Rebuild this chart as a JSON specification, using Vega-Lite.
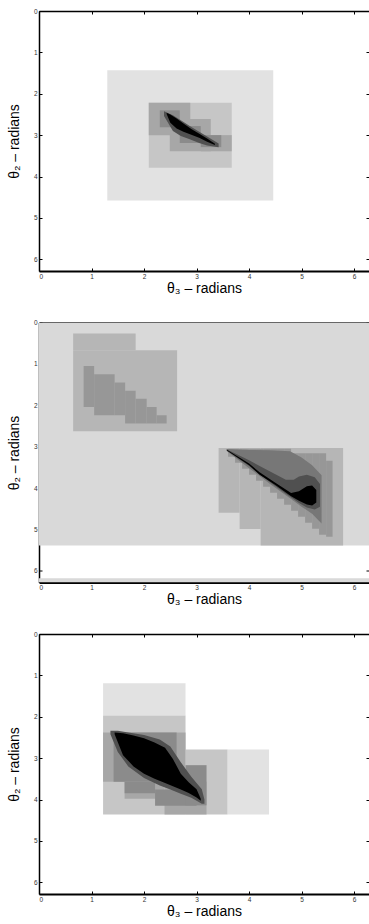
{
"$schema":"https://vega.github.io/schema/vega-lite/v6.json",
"padding":{"left":7,"top":8,"right":0,"bottom":0},
"spacing":51.5,
"bounds":"flush",
"config":{"view":{"stroke":null},
 "axis":{"tickSize":-3,"tickColor":"black","tickWidth":1,"domainColor":"black","grid":false,"labelFont":"Liberation Sans","labelFontSize":6.5,"labelColor":"#333","titleFont":"Liberation Sans","titleFontSize":14,"titleFontWeight":"normal","titleColor":"black","labelPadding":5,"labelOverlap":false}},
"datasets":{
"rects":[
{"panel":1,"level":"L1","x1":1.30,"x2":4.46,"y1":1.43,"y2":4.58},
{"panel":1,"level":"L3","x1":2.09,"x2":3.67,"y1":2.22,"y2":3.79},
{"panel":1,"level":"L5","x1":2.09,"x2":2.88,"y1":2.22,"y2":3.00},
{"panel":1,"level":"L5","x1":2.49,"x2":3.27,"y1":2.61,"y2":3.39},
{"panel":1,"level":"L5","x1":3.08,"x2":3.67,"y1":3.00,"y2":3.39},
{"panel":1,"level":"L7","x1":2.30,"x2":2.68,"y1":2.40,"y2":2.81},
{"panel":1,"level":"L7","x1":2.68,"x2":3.08,"y1":2.78,"y2":3.19},
{"panel":1,"level":"L7","x1":3.08,"x2":3.47,"y1":3.00,"y2":3.29},
{"panel":2,"level":"L2","x1":0,"x2":6.2832,"y1":0,"y2":5.39},
{"panel":2,"level":"L2","x1":0,"x2":6.2832,"y1":6.18,"y2":6.2832},
{"panel":2,"level":"L4","x1":0.65,"x2":1.84,"y1":0.265,"y2":0.67},
{"panel":2,"level":"L4","x1":0.65,"x2":2.63,"y1":0.67,"y2":2.63},
{"panel":2,"level":"L4","x1":3.42,"x2":3.82,"y1":3.03,"y2":4.60},
{"panel":2,"level":"L4","x1":3.82,"x2":4.22,"y1":3.03,"y2":4.99},
{"panel":2,"level":"L4","x1":4.22,"x2":5.79,"y1":3.03,"y2":5.39},
{"panel":2,"level":"L6","x1":0.85,"x2":1.05,"y1":1.05,"y2":2.04},
{"panel":2,"level":"L6","x1":1.05,"x2":1.44,"y1":1.25,"y2":2.24},
{"panel":2,"level":"L6","x1":1.44,"x2":1.64,"y1":1.45,"y2":2.24},
{"panel":2,"level":"L6","x1":1.64,"x2":1.84,"y1":1.65,"y2":2.44},
{"panel":2,"level":"L6","x1":1.84,"x2":2.05,"y1":1.84,"y2":2.44},
{"panel":2,"level":"L6","x1":2.05,"x2":2.24,"y1":2.04,"y2":2.44},
{"panel":2,"level":"L6","x1":2.24,"x2":2.43,"y1":2.24,"y2":2.44},
{"panel":2,"level":"L6","x1":3.600,"x2":3.733,"y1":3.05,"y2":3.245},
{"panel":2,"level":"L6","x1":3.733,"x2":3.867,"y1":3.05,"y2":3.39},
{"panel":2,"level":"L6","x1":3.867,"x2":4.000,"y1":3.05,"y2":3.535},
{"panel":2,"level":"L6","x1":4.000,"x2":4.133,"y1":3.05,"y2":3.68},
{"panel":2,"level":"L6","x1":4.133,"x2":4.267,"y1":3.05,"y2":3.825},
{"panel":2,"level":"L6","x1":4.267,"x2":4.400,"y1":3.05,"y2":3.97},
{"panel":2,"level":"L6","x1":4.400,"x2":4.533,"y1":3.05,"y2":4.115},
{"panel":2,"level":"L6","x1":4.533,"x2":4.667,"y1":3.05,"y2":4.26},
{"panel":2,"level":"L6","x1":4.667,"x2":4.800,"y1":3.05,"y2":4.405},
{"panel":2,"level":"L6","x1":4.800,"x2":4.933,"y1":3.16,"y2":4.55},
{"panel":2,"level":"L6","x1":4.933,"x2":5.067,"y1":3.16,"y2":4.695},
{"panel":2,"level":"L6","x1":5.067,"x2":5.200,"y1":3.16,"y2":4.84},
{"panel":2,"level":"L6","x1":5.200,"x2":5.333,"y1":3.16,"y2":4.985},
{"panel":2,"level":"L6","x1":5.333,"x2":5.467,"y1":3.16,"y2":5.13},
{"panel":2,"level":"L6","x1":5.467,"x2":5.590,"y1":3.34,"y2":5.18},
{"panel":3,"level":"L1","x1":1.22,"x2":2.79,"y1":1.19,"y2":1.97},
{"panel":3,"level":"L1","x1":3.59,"x2":4.38,"y1":2.79,"y2":4.36},
{"panel":3,"level":"L3","x1":1.22,"x2":2.79,"y1":1.97,"y2":4.36},
{"panel":3,"level":"L3","x1":2.79,"x2":3.59,"y1":2.79,"y2":4.36},
{"panel":3,"level":"L5","x1":1.22,"x2":2.79,"y1":2.38,"y2":3.57},
{"panel":3,"level":"L5","x1":1.63,"x2":2.39,"y1":3.57,"y2":3.98},
{"panel":3,"level":"L5","x1":2.39,"x2":3.19,"y1":3.57,"y2":4.36},
{"panel":3,"level":"L7","x1":1.42,"x2":2.62,"y1":2.38,"y2":3.57},
{"panel":3,"level":"L7","x1":1.63,"x2":2.21,"y1":3.57,"y2":3.85},
{"panel":3,"level":"L7","x1":2.21,"x2":3.00,"y1":3.76,"y2":4.15},
{"panel":3,"level":"L7","x1":2.79,"x2":3.19,"y1":3.17,"y2":4.14}
],
"areas":[
{"panel":1,"z":1,"level":"L9","x":2.38,"y":2.42,"y2":2.54},
{"panel":1,"z":1,"level":"L9","x":2.55,"y":2.52,"y2":2.90},
{"panel":1,"z":1,"level":"L9","x":2.70,"y":2.64,"y2":3.02},
{"panel":1,"z":1,"level":"L9","x":2.87,"y":2.78,"y2":3.10},
{"panel":1,"z":1,"level":"L9","x":3.05,"y":2.92,"y2":3.19},
{"panel":1,"z":1,"level":"L9","x":3.20,"y":3.03,"y2":3.25},
{"panel":1,"z":1,"level":"L9","x":3.42,"y":3.20,"y2":3.29},
{"panel":1,"z":2,"level":"L10","x":2.43,"y":2.46,"y2":2.49},
{"panel":1,"z":2,"level":"L10","x":2.50,"y":2.50,"y2":2.70},
{"panel":1,"z":2,"level":"L10","x":2.62,"y":2.60,"y2":2.84},
{"panel":1,"z":2,"level":"L10","x":2.75,"y":2.72,"y2":2.92},
{"panel":1,"z":2,"level":"L10","x":2.90,"y":2.85,"y2":2.99},
{"panel":1,"z":2,"level":"L10","x":3.06,"y":2.97,"y2":3.07},
{"panel":1,"z":2,"level":"L10","x":3.20,"y":3.08,"y2":3.16},
{"panel":1,"z":2,"level":"L10","x":3.35,"y":3.21,"y2":3.24},
{"panel":2,"z":1,"level":"L8","x":3.58,"y":3.06,"y2":3.11},
{"panel":2,"z":1,"level":"L8","x":4.00,"y":3.08,"y2":3.52},
{"panel":2,"z":1,"level":"L8","x":4.40,"y":3.09,"y2":3.90},
{"panel":2,"z":1,"level":"L8","x":4.78,"y":3.11,"y2":4.25},
{"panel":2,"z":1,"level":"L8","x":5.00,"y":3.26,"y2":4.45},
{"panel":2,"z":1,"level":"L8","x":5.20,"y":3.45,"y2":4.62},
{"panel":2,"z":1,"level":"L8","x":5.38,"y":3.69,"y2":4.86},
{"panel":2,"z":2,"level":"L9","x":3.58,"y":3.07,"y2":3.10},
{"panel":2,"z":2,"level":"L9","x":4.00,"y":3.33,"y2":3.47},
{"panel":2,"z":2,"level":"L9","x":4.40,"y":3.60,"y2":3.86},
{"panel":2,"z":2,"level":"L9","x":4.70,"y":3.80,"y2":4.14},
{"panel":2,"z":2,"level":"L9","x":4.85,"y":3.80,"y2":4.27},
{"panel":2,"z":2,"level":"L9","x":4.95,"y":3.72,"y2":4.36},
{"panel":2,"z":2,"level":"L9","x":5.10,"y":3.68,"y2":4.47},
{"panel":2,"z":2,"level":"L9","x":5.25,"y":3.74,"y2":4.52},
{"panel":2,"z":2,"level":"L9","x":5.35,"y":3.90,"y2":4.45},
{"panel":2,"z":3,"level":"L10","x":3.57,"y":3.07,"y2":3.09},
{"panel":2,"z":3,"level":"L10","x":4.00,"y":3.41,"y2":3.45},
{"panel":2,"z":3,"level":"L10","x":4.20,"y":3.62,"y2":3.68},
{"panel":2,"z":3,"level":"L10","x":4.50,"y":3.87,"y2":3.93},
{"panel":2,"z":3,"level":"L10","x":4.80,"y":4.12,"y2":4.20},
{"panel":2,"z":3,"level":"L10","x":4.95,"y":4.08,"y2":4.31},
{"panel":2,"z":3,"level":"L10","x":5.10,"y":3.96,"y2":4.40},
{"panel":2,"z":3,"level":"L10","x":5.20,"y":3.94,"y2":4.42},
{"panel":2,"z":3,"level":"L10","x":5.28,"y":4.05,"y2":4.35},
{"panel":3,"z":1,"level":"L9","x":1.36,"y":2.34,"y2":2.42},
{"panel":3,"z":1,"level":"L9","x":1.50,"y":2.34,"y2":2.85},
{"panel":3,"z":1,"level":"L9","x":1.70,"y":2.38,"y2":3.20},
{"panel":3,"z":1,"level":"L9","x":2.00,"y":2.44,"y2":3.48},
{"panel":3,"z":1,"level":"L9","x":2.30,"y":2.55,"y2":3.66},
{"panel":3,"z":1,"level":"L9","x":2.50,"y":2.72,"y2":3.76},
{"panel":3,"z":1,"level":"L9","x":2.70,"y":3.10,"y2":3.86},
{"panel":3,"z":1,"level":"L9","x":2.90,"y":3.45,"y2":3.96},
{"panel":3,"z":1,"level":"L9","x":3.10,"y":3.75,"y2":4.10},
{"panel":3,"z":1,"level":"L9","x":3.15,"y":4.00,"y2":4.10},
{"panel":3,"z":2,"level":"L10","x":1.44,"y":2.38,"y2":2.42},
{"panel":3,"z":2,"level":"L10","x":1.60,"y":2.40,"y2":2.93},
{"panel":3,"z":2,"level":"L10","x":1.80,"y":2.45,"y2":3.20},
{"panel":3,"z":2,"level":"L10","x":2.00,"y":2.52,"y2":3.38},
{"panel":3,"z":2,"level":"L10","x":2.20,"y":2.62,"y2":3.50},
{"panel":3,"z":2,"level":"L10","x":2.40,"y":2.75,"y2":3.60},
{"panel":3,"z":2,"level":"L10","x":2.55,"y":3.02,"y2":3.68},
{"panel":3,"z":2,"level":"L10","x":2.70,"y":3.38,"y2":3.76},
{"panel":3,"z":2,"level":"L10","x":2.85,"y":3.58,"y2":3.84},
{"panel":3,"z":2,"level":"L10","x":3.00,"y":3.75,"y2":3.95},
{"panel":3,"z":2,"level":"L10","x":3.08,"y":3.98,"y2":4.03}
]},
"vconcat":[
{"width":330,"height":260,
 "layer":[
  {"data":{"name":"rects"},"transform":[{"filter":"datum.panel==1"}],"mark":{"type":"rect","clip":true},
   "encoding":{"x":{"field":"x1","type":"quantitative","scale":{"domain":[0,6.2832],"nice":false,"zero":false},"axis":{"orient":"bottom","title":"θ₃ – radians","values":[0,1,2,3,4,5,6],"format":"d","domainWidth":2,"titlePadding":1.5}},
    "x2":{"field":"x2"},
    "y":{"field":"y1","type":"quantitative","scale":{"domain":[0,6.2832],"nice":false,"zero":false,"reverse":true},"axis":{"orient":"left","title":"θ₂ – radians","values":[0,1,2,3,4,5,6],"format":"d","domainWidth":1.5,"titlePadding":12}},
    "y2":{"field":"y2"},
    "color":{"field":"level","type":"nominal","scale":{"domain":["L1","L2","L3","L4","L5","L6","L7","L8","L9","L10"],"range":["#e2e2e2","#d9d9d9","#c6c6c6","#b6b6b6","#a7a7a7","#979797","#8b8b8b","#777777","#505050","#000000"]},"legend":null}}},
  {"data":{"name":"areas"},"transform":[{"filter":"datum.panel==1 && datum.z==1"}],"mark":{"type":"area","clip":true},
   "encoding":{"x":{"field":"x","type":"quantitative","scale":{"domain":[0,6.2832],"nice":false,"zero":false},"axis":null},
    "y":{"field":"y","type":"quantitative","stack":null,"scale":{"domain":[0,6.2832],"nice":false,"zero":false,"reverse":true},"axis":null},"y2":{"field":"y2"},
    "color":{"field":"level","type":"nominal","scale":{"domain":["L1","L2","L3","L4","L5","L6","L7","L8","L9","L10"],"range":["#e2e2e2","#d9d9d9","#c6c6c6","#b6b6b6","#a7a7a7","#979797","#8b8b8b","#777777","#505050","#000000"]},"legend":null}}},
  {"data":{"name":"areas"},"transform":[{"filter":"datum.panel==1 && datum.z==2"}],"mark":{"type":"area","clip":true},
   "encoding":{"x":{"field":"x","type":"quantitative","scale":{"domain":[0,6.2832],"nice":false,"zero":false},"axis":null},
    "y":{"field":"y","type":"quantitative","stack":null,"scale":{"domain":[0,6.2832],"nice":false,"zero":false,"reverse":true},"axis":null},"y2":{"field":"y2"},
    "color":{"field":"level","type":"nominal","scale":{"domain":["L1","L2","L3","L4","L5","L6","L7","L8","L9","L10"],"range":["#e2e2e2","#d9d9d9","#c6c6c6","#b6b6b6","#a7a7a7","#979797","#8b8b8b","#777777","#505050","#000000"]},"legend":null}}},
  {"data":{"name":"rects"},"transform":[{"filter":"datum.panel==1"}],"mark":{"type":"point","opacity":0},
   "encoding":{"x":{"field":"x1","type":"quantitative","scale":{"domain":[0,6.2832],"nice":false,"zero":false},"axis":{"orient":"top","title":null,"labels":false,"values":[0,1,2,3,4,5,6],"domainWidth":1.5}},
    "y":{"field":"y1","type":"quantitative","scale":{"domain":[0,6.2832],"nice":false,"zero":false,"reverse":true},"axis":{"orient":"right","title":null,"labels":false,"values":[0,1,2,3,4,5,6],"domain":false}}}}
 ],
 "resolve":{"axis":{"x":"independent","y":"independent"}}},
{"width":330,"height":260,
 "layer":[
  {"data":{"name":"rects"},"transform":[{"filter":"datum.panel==2"}],"mark":{"type":"rect","clip":true},
   "encoding":{"x":{"field":"x1","type":"quantitative","scale":{"domain":[0,6.2832],"nice":false,"zero":false},"axis":{"orient":"bottom","title":"θ₃ – radians","values":[0,1,2,3,4,5,6],"format":"d","domainWidth":2,"titlePadding":1.5}},
    "x2":{"field":"x2"},
    "y":{"field":"y1","type":"quantitative","scale":{"domain":[0,6.2832],"nice":false,"zero":false,"reverse":true},"axis":{"orient":"left","title":"θ₂ – radians","values":[0,1,2,3,4,5,6],"format":"d","domainWidth":1.5,"titlePadding":12}},
    "y2":{"field":"y2"},
    "color":{"field":"level","type":"nominal","scale":{"domain":["L1","L2","L3","L4","L5","L6","L7","L8","L9","L10"],"range":["#e2e2e2","#d9d9d9","#c6c6c6","#b6b6b6","#a7a7a7","#979797","#8b8b8b","#777777","#505050","#000000"]},"legend":null}}},
  {"data":{"name":"areas"},"transform":[{"filter":"datum.panel==2 && datum.z==1"}],"mark":{"type":"area","clip":true},
   "encoding":{"x":{"field":"x","type":"quantitative","scale":{"domain":[0,6.2832],"nice":false,"zero":false},"axis":null},
    "y":{"field":"y","type":"quantitative","stack":null,"scale":{"domain":[0,6.2832],"nice":false,"zero":false,"reverse":true},"axis":null},"y2":{"field":"y2"},
    "color":{"field":"level","type":"nominal","scale":{"domain":["L1","L2","L3","L4","L5","L6","L7","L8","L9","L10"],"range":["#e2e2e2","#d9d9d9","#c6c6c6","#b6b6b6","#a7a7a7","#979797","#8b8b8b","#777777","#505050","#000000"]},"legend":null}}},
  {"data":{"name":"areas"},"transform":[{"filter":"datum.panel==2 && datum.z==2"}],"mark":{"type":"area","clip":true},
   "encoding":{"x":{"field":"x","type":"quantitative","scale":{"domain":[0,6.2832],"nice":false,"zero":false},"axis":null},
    "y":{"field":"y","type":"quantitative","stack":null,"scale":{"domain":[0,6.2832],"nice":false,"zero":false,"reverse":true},"axis":null},"y2":{"field":"y2"},
    "color":{"field":"level","type":"nominal","scale":{"domain":["L1","L2","L3","L4","L5","L6","L7","L8","L9","L10"],"range":["#e2e2e2","#d9d9d9","#c6c6c6","#b6b6b6","#a7a7a7","#979797","#8b8b8b","#777777","#505050","#000000"]},"legend":null}}},
  {"data":{"name":"areas"},"transform":[{"filter":"datum.panel==2 && datum.z==3"}],"mark":{"type":"area","clip":true},
   "encoding":{"x":{"field":"x","type":"quantitative","scale":{"domain":[0,6.2832],"nice":false,"zero":false},"axis":null},
    "y":{"field":"y","type":"quantitative","stack":null,"scale":{"domain":[0,6.2832],"nice":false,"zero":false,"reverse":true},"axis":null},"y2":{"field":"y2"},
    "color":{"field":"level","type":"nominal","scale":{"domain":["L1","L2","L3","L4","L5","L6","L7","L8","L9","L10"],"range":["#e2e2e2","#d9d9d9","#c6c6c6","#b6b6b6","#a7a7a7","#979797","#8b8b8b","#777777","#505050","#000000"]},"legend":null}}},
  {"data":{"name":"rects"},"transform":[{"filter":"datum.panel==2"}],"mark":{"type":"point","opacity":0},
   "encoding":{"x":{"field":"x1","type":"quantitative","scale":{"domain":[0,6.2832],"nice":false,"zero":false},"axis":{"orient":"top","title":null,"labels":false,"values":[0,1,2,3,4,5,6],"domainWidth":1.5}},
    "y":{"field":"y1","type":"quantitative","scale":{"domain":[0,6.2832],"nice":false,"zero":false,"reverse":true},"axis":{"orient":"right","title":null,"labels":false,"values":[0,1,2,3,4,5,6],"domain":false}}}}
 ],
 "resolve":{"axis":{"x":"independent","y":"independent"}}},
{"width":330,"height":260,
 "layer":[
  {"data":{"name":"rects"},"transform":[{"filter":"datum.panel==3"}],"mark":{"type":"rect","clip":true},
   "encoding":{"x":{"field":"x1","type":"quantitative","scale":{"domain":[0,6.2832],"nice":false,"zero":false},"axis":{"orient":"bottom","title":"θ₃ – radians","values":[0,1,2,3,4,5,6],"format":"d","domainWidth":2,"titlePadding":1.5}},
    "x2":{"field":"x2"},
    "y":{"field":"y1","type":"quantitative","scale":{"domain":[0,6.2832],"nice":false,"zero":false,"reverse":true},"axis":{"orient":"left","title":"θ₂ – radians","values":[0,1,2,3,4,5,6],"format":"d","domainWidth":1.5,"titlePadding":12}},
    "y2":{"field":"y2"},
    "color":{"field":"level","type":"nominal","scale":{"domain":["L1","L2","L3","L4","L5","L6","L7","L8","L9","L10"],"range":["#e2e2e2","#d9d9d9","#c6c6c6","#b6b6b6","#a7a7a7","#979797","#8b8b8b","#777777","#505050","#000000"]},"legend":null}}},
  {"data":{"name":"areas"},"transform":[{"filter":"datum.panel==3 && datum.z==1"}],"mark":{"type":"area","clip":true},
   "encoding":{"x":{"field":"x","type":"quantitative","scale":{"domain":[0,6.2832],"nice":false,"zero":false},"axis":null},
    "y":{"field":"y","type":"quantitative","stack":null,"scale":{"domain":[0,6.2832],"nice":false,"zero":false,"reverse":true},"axis":null},"y2":{"field":"y2"},
    "color":{"field":"level","type":"nominal","scale":{"domain":["L1","L2","L3","L4","L5","L6","L7","L8","L9","L10"],"range":["#e2e2e2","#d9d9d9","#c6c6c6","#b6b6b6","#a7a7a7","#979797","#8b8b8b","#777777","#505050","#000000"]},"legend":null}}},
  {"data":{"name":"areas"},"transform":[{"filter":"datum.panel==3 && datum.z==2"}],"mark":{"type":"area","clip":true},
   "encoding":{"x":{"field":"x","type":"quantitative","scale":{"domain":[0,6.2832],"nice":false,"zero":false},"axis":null},
    "y":{"field":"y","type":"quantitative","stack":null,"scale":{"domain":[0,6.2832],"nice":false,"zero":false,"reverse":true},"axis":null},"y2":{"field":"y2"},
    "color":{"field":"level","type":"nominal","scale":{"domain":["L1","L2","L3","L4","L5","L6","L7","L8","L9","L10"],"range":["#e2e2e2","#d9d9d9","#c6c6c6","#b6b6b6","#a7a7a7","#979797","#8b8b8b","#777777","#505050","#000000"]},"legend":null}}},
  {"data":{"name":"rects"},"transform":[{"filter":"datum.panel==3"}],"mark":{"type":"point","opacity":0},
   "encoding":{"x":{"field":"x1","type":"quantitative","scale":{"domain":[0,6.2832],"nice":false,"zero":false},"axis":{"orient":"top","title":null,"labels":false,"values":[0,1,2,3,4,5,6],"domainWidth":1.5}},
    "y":{"field":"y1","type":"quantitative","scale":{"domain":[0,6.2832],"nice":false,"zero":false,"reverse":true},"axis":{"orient":"right","title":null,"labels":false,"values":[0,1,2,3,4,5,6],"domain":false}}}}
 ],
 "resolve":{"axis":{"x":"independent","y":"independent"}}}
]
}
